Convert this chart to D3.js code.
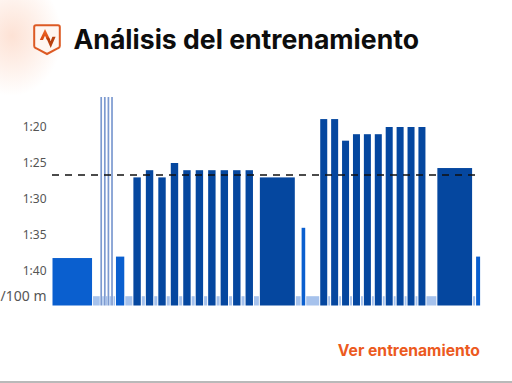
<!DOCTYPE html>
<html>
<head>
<meta charset="utf-8">
<script src="https://cdn.jsdelivr.net/npm/d3@7"></script>
<style>
  html, body { margin: 0; padding: 0; background: #fff; }
  svg { display: block; }
</style>
</head>
<body>
<svg id="viz" width="512" height="383"></svg>
<script>
// one entry per segment of the workout, in order
let segLength = [40.5, 7.7, 1.9, 1.7, 1.9, 1.7, 1.9, 1.7, 1.9, 2.5, 9.3, 8.1,
  8.4, 4.05, 8.4, 4.05, 8.4, 4.05, 8.4, 4.05, 8.4, 4.05, 8.4, 4.05, 8.4, 4.05, 8.4, 4.05, 8.4, 4.05, 8.4,
  5.9, 35.9, 5.8, 4.6, 14,
  8, 2.9, 8, 2.9, 8, 2.9, 8, 2.9, 8, 2.9, 8, 2.9, 8, 2.9, 8, 2.9, 8, 2.9, 8,
  10.9, 35.7, 3, 5];
let segPace = [98.2, 103.5, 75, 103.5, 75, 103.5, 75, 103.5, 75, 103.5, 98, 103.5,
  87, 103.5, 86, 103.5, 87, 103.5, 85, 103.5, 86, 103.5, 86, 103.5, 86, 103.5, 86, 103.5, 86, 103.5, 86,
  103.5, 87, 103.5, 94, 103.5,
  78.9, 103.5, 78.9, 103.5, 81.9, 103.5, 81, 103.5, 81, 103.5, 81, 103.5, 80, 103.5, 80, 103.5, 80, 103.5, 80,
  103.5, 85.7, 103.5, 98];
let segType = ["mid", "rest", "sprint", "rest", "sprint", "rest", "sprint", "rest", "sprint", "rest", "mid", "rest",
  "hard", "rest", "hard", "rest", "hard", "rest", "hard", "rest", "hard", "rest", "hard", "rest", "hard", "rest", "hard", "rest", "hard", "rest", "hard",
  "rest", "hard", "rest", "mid", "rest",
  "hard", "rest", "hard", "rest", "hard", "rest", "hard", "rest", "hard", "rest", "hard", "rest", "hard", "rest", "hard", "rest", "hard", "rest", "hard",
  "rest", "hard", "rest", "mid"];
let tickValues = [80, 85, 90, 95, 100, 103.5];
let tickLabels = ["1:20", "1:25", "1:30", "1:35", "1:40", "/100 m"];
let avgPace = 86.67;
let titleText = "Análisis del entrenamiento";
let linkText = "Ver entrenamiento";

let colors = { hard: "#05479f", mid: "#0a5fcf", rest: "#a6c2ec", sprint: "#7c9ad0" };

let viz = d3.select("#viz");

// soft orange glow behind the logo
let defs = viz.append("defs");
let glow = defs.append("radialGradient").attr("id", "glow");
glow.append("stop").attr("offset", "0%").attr("stop-color", "#fde2d5");
glow.append("stop").attr("offset", "50%").attr("stop-color", "#fef0e9");
glow.append("stop").attr("offset", "100%").attr("stop-color", "#ffffff");
viz.append("ellipse")
  .attr("cx", 12).attr("cy", 36).attr("rx", 50).attr("ry", 60)
  .attr("fill", "url(#glow)");

// logo
let logoFill = defs.append("linearGradient").attr("id", "logoFill")
  .attr("x1", 0).attr("x2", 0).attr("y1", 0).attr("y2", 1);
logoFill.append("stop").attr("offset", "0%").attr("stop-color", "#ee6a2c");
logoFill.append("stop").attr("offset", "100%").attr("stop-color", "#d9480f");
let logo = viz.append("g");
logo.append("path")
  .attr("d", "M36,25.3 H58 Q59.8,25.3 59.8,27 V46 Q59.8,47.6 58,48.2 L47,54 L36,48.2 Q34.2,47.6 34.2,46 V27 Q34.2,25.3 36,25.3 Z")
  .attr("fill", "#fff6f1")
  .attr("stroke", "#dd5a24")
  .attr("stroke-width", 2);
logo.append("path")
  .attr("d", "M39.8,40 L45,29 L50.4,40 L47,40 L45,35.8 L43,40 Z")
  .attr("fill", "url(#logoFill)");
logo.append("path")
  .attr("d", "M46.2,37.8 L49,37.8 L50.6,41.2 L52.4,36.8 L55.6,36.8 L50.7,48 Z")
  .attr("fill", "#b8400f");

viz.append("text")
  .attr("x", 73.5).attr("y", 48.5)
  .attr("font-family", "Inter, 'Liberation Sans', sans-serif")
  .attr("font-size", 26.6)
  .attr("font-weight", 700)
  .attr("fill", "#0d0d0d")
  .text(titleText);

let xEdges = d3.cumsum(segLength);
let xScale = d3.scaleLinear().domain([0, d3.sum(segLength)]).range([52, 480.6]);
let yScale = d3.scaleLinear().domain([80, 85]).range([127, 163]);
let baseY = 305.5;
let topY = 97;

function pad(d) {
  return d < 2.5 ? 0.1 : 0.5;
}

// bars
viz.append("g").selectAll("rect")
  .data(segLength)
  .enter()
  .append("rect")
  .attr("x", function (d, i) {
    let start = i == 0 ? 0 : xEdges[i - 1];
    return xScale(start) + pad(d);
  })
  .attr("width", function (d, i) {
    let start = i == 0 ? 0 : xEdges[i - 1];
    return xScale(xEdges[i]) - xScale(start) - 2 * pad(d);
  })
  .attr("y", function (d, i) { return Math.max(yScale(segPace[i]), topY); })
  .attr("height", function (d, i) { return baseY - Math.max(yScale(segPace[i]), topY); })
  .attr("fill", function (d, i) { return colors[segType[i]]; });

// y axis, domain line and tick marks hidden
let yAxis = d3.axisLeft(yScale)
  .tickValues(tickValues)
  .tickSize(0)
  .tickPadding(0)
  .tickFormat(function (d, i) { return tickLabels[i]; });
let yAxisGroup = viz.append("g").attr("transform", "translate(46.5,0)").call(yAxis);
yAxisGroup.select(".domain").remove();
yAxisGroup.selectAll("text")
  .attr("font-family", "'Noto Sans', sans-serif")
  .attr("font-size", function (d, i) { return i == 5 ? 14 : 12; })
  .attr("fill", "#555555");

// average pace
viz.append("line")
  .attr("x1", 52).attr("x2", 476)
  .attr("y1", yScale(avgPace)).attr("y2", yScale(avgPace))
  .attr("stroke", "#111111")
  .attr("stroke-width", 1.3)
  .attr("stroke-dasharray", "7 6");

viz.append("text")
  .attr("x", 480).attr("y", 355.5)
  .attr("text-anchor", "end")
  .attr("font-family", "Inter, 'Liberation Sans', sans-serif")
  .attr("font-size", 15.7)
  .attr("font-weight", 700)
  .attr("fill", "#ec5a1e")
  .text(linkText);

// bottom edge of the page
viz.append("rect")
  .attr("x", 0).attr("y", 381).attr("width", 512).attr("height", 2)
  .attr("fill", "#b9b9b9");
</script>
</body>
</html>
